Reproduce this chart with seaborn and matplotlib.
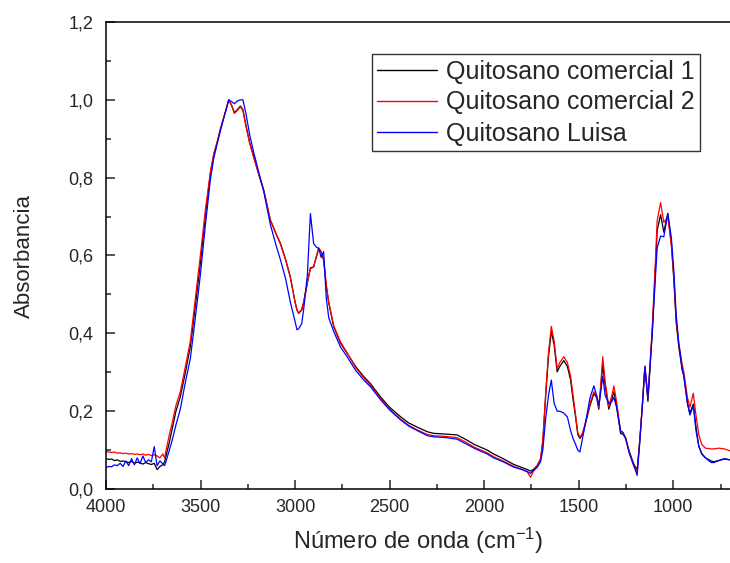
import matplotlib
matplotlib.use("Agg")
import matplotlib.pyplot as plt
import pandas as pd
import seaborn as sns
from matplotlib.ticker import FuncFormatter, MultipleLocator

# wavenumbers (cm-1), 4000 -> 700
numero_onda = [
    4000, 3985, 3970, 3955, 3940, 3925, 3910, 3895, 3880, 3865,
    3850, 3835, 3820, 3805, 3790, 3775, 3760, 3745, 3730, 3715, 3700,
    3690, 3680, 3665, 3650, 3630, 3607, 3580, 3554, 3530, 3501,
    3475, 3448, 3430, 3413, 3395, 3380, 3365, 3351, 3335, 3321,
    3305, 3289, 3276, 3260, 3240, 3219, 3190, 3166, 3131, 3100,
    3078, 3050, 3025, 3000, 2990, 2981, 2965, 2955, 2935, 2919,
    2902, 2888, 2875, 2862, 2849, 2835, 2822, 2796, 2760, 2725,
    2680, 2637, 2600, 2549, 2500, 2443, 2400, 2350, 2300, 2267,
    2200, 2143, 2100, 2050, 1984, 1950, 1900, 1843, 1800, 1772,
    1755, 1740, 1720, 1702, 1690, 1675, 1660, 1645, 1630, 1614,
    1600, 1579, 1560, 1543, 1530, 1517, 1505, 1494, 1480, 1464,
    1440, 1420, 1405, 1394, 1385, 1373, 1360, 1341, 1325, 1314,
    1300, 1279, 1265, 1252, 1235, 1217, 1205, 1191, 1178, 1164,
    1150, 1134, 1111, 1095, 1085, 1067, 1050, 1029, 1010, 997,
    985, 971, 953, 944, 925, 912, 894, 880, 865, 850,
    830, 800, 785, 760, 730, 700,
]

comercial_1 = [
    .078, .076, .077, .073, .075, .071, .072, .070, .068, .071,
    .066, .069, .067, .064, .068, .065, .063, .066, .050, .058, .062,
    .070, .090, .120, .155, .200, .237, .300, .366, .460, .580,
    .700, .810, .860, .889, .925, .950, .975, 1.00, .985, .967,
    .975, .984, .975, .935, .890, .854, .805, .768, .691, .655,
    .632, .590, .545, .480, .460, .451, .460, .478, .530, .568,
    .571, .595, .618, .608, .588, .520, .478, .417, .375, .349,
    .315, .289, .270, .237, .210, .186, .170, .158, .147, .143,
    .141, .139, .128, .114, .100, .090, .078, .063, .055, .050,
    .046, .050, .060, .075, .120, .237, .340, .405, .370, .301,
    .315, .330, .315, .280, .230, .186, .140, .130, .140, .169,
    .215, .245, .235, .205, .250, .320, .265, .205, .230, .250,
    .215, .143, .140, .130, .100, .075, .060, .050, .120, .211,
    .312, .225, .408, .560, .665, .705, .660, .708, .630, .537,
    .430, .366, .306, .290, .220, .195, .218, .160, .110, .090,
    .080, .072, .070, .073, .077, .075,
]

comercial_2 = [
    .096, .095, .094, .095, .092, .093, .091, .092, .090, .091,
    .089, .090, .088, .090, .087, .089, .086, .088, .085, .080, .090,
    .080, .105, .140, .170, .215, .250, .315, .380, .480, .600,
    .715, .815, .862, .890, .925, .950, .975, 1.00, .985, .965,
    .973, .982, .972, .932, .888, .852, .805, .768, .692, .655,
    .630, .588, .543, .480, .460, .452, .462, .480, .532, .566,
    .570, .598, .620, .610, .590, .525, .480, .420, .378, .350,
    .312, .286, .266, .233, .205, .180, .164, .151, .140, .137,
    .135, .132, .121, .107, .093, .083, .072, .058, .050, .044,
    .030, .045, .060, .078, .125, .245, .350, .418, .380, .310,
    .325, .340, .325, .290, .240, .192, .145, .133, .143, .172,
    .220, .250, .238, .210, .260, .340, .275, .212, .240, .265,
    .225, .150, .142, .132, .100, .072, .055, .045, .120, .212,
    .316, .235, .415, .580, .690, .736, .685, .700, .625, .545,
    .440, .375, .320, .300, .235, .210, .246, .190, .140, .115,
    .105, .103, .103, .105, .103, .098,
]

luisa = [
    .055, .058, .057, .062, .060, .066, .058, .072, .060, .078,
    .062, .080, .065, .085, .068, .075, .070, .109, .060, .072, .065,
    .060, .075, .100, .125, .165, .205, .275, .335, .430, .550,
    .675, .795, .850, .885, .920, .948, .975, 1.00, .995, .990,
    .997, 1.00, 1.00, .965, .910, .865, .810, .765, .680, .625,
    .590, .540, .480, .430, .409, .412, .425, .460, .550, .708,
    .631, .622, .618, .595, .610, .490, .440, .405, .365, .340,
    .305, .280, .262, .230, .203, .178, .162, .149, .137, .134,
    .132, .128, .117, .104, .090, .080, .070, .056, .050, .045,
    .040, .048, .055, .070, .100, .180, .240, .280, .220, .200,
    .200, .195, .185, .150, .130, .115, .100, .095, .130, .170,
    .235, .265, .240, .215, .245, .290, .240, .220, .225, .235,
    .210, .150, .145, .130, .095, .070, .055, .035, .115, .211,
    .315, .235, .400, .540, .620, .650, .648, .708, .645, .560,
    .450, .375, .310, .290, .220, .190, .214, .150, .110, .092,
    .080, .068, .068, .073, .078, .075,
]

series = ["Quitosano comercial 1", "Quitosano comercial 2", "Quitosano Luisa"]
colores = ["#000000", "#FF0000", "#0000FF"]

df = pd.concat([
    pd.DataFrame({"wn": numero_onda, "abs": vals, "serie": name})
    for name, vals in zip(series, [comercial_1, comercial_2, luisa])
])

sns.set_style("ticks")
plt.rcParams["font.family"] = ["Liberation Sans", "DejaVu Sans"]
plt.rcParams["mathtext.fontset"] = "custom"
plt.rcParams["mathtext.rm"] = "Liberation Sans"
plt.rcParams["mathtext.it"] = "Liberation Sans:italic"

fig = plt.figure(figsize=(7.30, 5.63), dpi=100)
ax = fig.add_axes([106 / 730, 1 - 489 / 563, 1 - 106 / 730, 467 / 563])

sns.lineplot(data=df, x="wn", y="abs", hue="serie", hue_order=series,
             palette=colores, linewidth=0.9, ax=ax, estimator=None)

ax.set_xlim(4000, 700)
ax.set_ylim(0, 1.2)
ax.xaxis.set_major_locator(MultipleLocator(500))
ax.xaxis.set_minor_locator(MultipleLocator(250))
ax.yaxis.set_major_locator(MultipleLocator(0.2))
ax.yaxis.set_minor_locator(MultipleLocator(0.1))
ax.yaxis.set_major_formatter(FuncFormatter(lambda v, p: f"{v:.1f}".replace(".", ",")))
ax.xaxis.set_major_formatter(FuncFormatter(lambda v, p: f"{v:.0f}"))

ax.tick_params(which="both", direction="in", width=1.1, labelsize=13,
               top=False, right=False)
ax.tick_params(axis="x", pad=7)
ax.tick_params(axis="y", pad=9)
ax.tick_params(which="major", length=6.5)
ax.tick_params(which="minor", length=3.3)
for s in ["left", "bottom", "top"]:
    ax.spines[s].set_linewidth(1.1)
    ax.spines[s].set_color("black")
ax.spines["right"].set_visible(False)

ax.set_xlabel("Número de onda (cm$^{-1}$)", fontsize=17, labelpad=7)
ax.set_ylabel("Absorbancia", fontsize=16, labelpad=24)

handles, labels = ax.get_legend_handles_labels()
leg = ax.legend(handles, labels, loc="upper right",
                bbox_to_anchor=(700 / 730, 1 - 54 / 563),
                bbox_transform=fig.transFigure, fontsize=18, frameon=True,
                fancybox=False, borderaxespad=0, handlelength=2.4,
                handletextpad=0.35, labelspacing=0.28, borderpad=0.22)
leg.get_frame().set_edgecolor("black")
leg.get_frame().set_linewidth(1.0)
for line in leg.get_lines():
    line.set_linewidth(1.0)

fig.savefig("out.png", dpi=100)
plt.close(fig)
